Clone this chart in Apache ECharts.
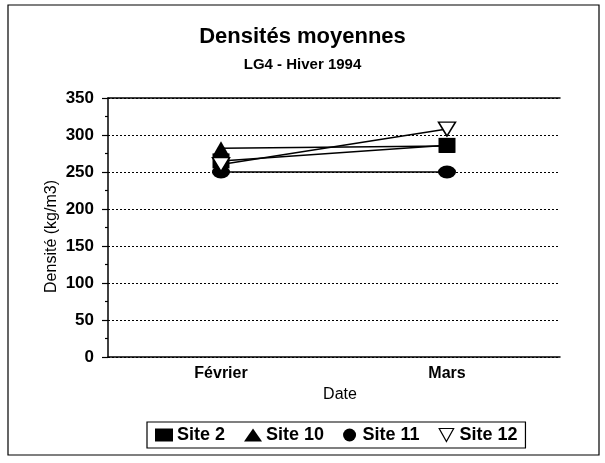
<!DOCTYPE html>
<html><head><meta charset="utf-8">
<script src="https://cdn.jsdelivr.net/npm/echarts@6/dist/echarts.min.js"></script>
<style>html,body{margin:0;padding:0;background:#fff}#c{width:605px;height:463px}</style>
</head><body><div id="c"></div>
<script>
const categories = ['Février', 'Mars'];
const site2 = [265, 286];
const site10 = [282, 285];
const site11 = [250, 250];
const site12 = [260, 308];
const yTicks = [0, 50, 100, 150, 200, 250, 300, 350];

const F = '"Liberation Sans", Arial, sans-serif';
const chart = echarts.init(document.getElementById('c'));
function ser(name, data, symbol, size, color, border, z, rot) {
  return {
    name, type: 'line', data, symbol, symbolSize: size, symbolRotate: rot || 0, z,
    lineStyle: { color: '#000', width: 1.5 },
    itemStyle: { color: color, borderColor: '#000', borderWidth: border },
    emphasis: { disabled: true }, animation: false
  };
}
chart.setOption({
  animation: false,
  textStyle: { fontFamily: F },
  graphic: [{ type: 'rect', shape: { x: 8, y: 5, width: 591, height: 450 }, style: { fill: 'none', stroke: '#000', lineWidth: 1.2 } }],
  title: [
    { text: 'Densités moyennes', left: 'center', top: 21, textStyle: { fontFamily: F, fontSize: 22, fontWeight: 'bold', color: '#000' } },
    { text: 'LG4 - Hiver 1994', left: 'center', top: 52, textStyle: { fontFamily: F, fontSize: 15, fontWeight: 'bold', color: '#000' } }
  ],
  legend: {
    bottom: 15, left: 147, itemGap: 19, itemWidth: 18, itemHeight: 13,
    padding: [4, 8], borderColor: '#000', borderWidth: 1.2,
    textStyle: { fontFamily: F, fontSize: 18, fontWeight: 'bold', color: '#000', padding: [0, 0, 0, -1] },
    data: [
      { name: 'Site 2', icon: 'rect', itemStyle: { color: '#000' } },
      { name: 'Site 10', icon: 'triangle', itemStyle: { color: '#000' } },
      { name: 'Site 11', icon: 'circle', itemStyle: { color: '#000' } },
      { name: 'Site 12', icon: 'path://M0,0 L10,0 L5,9 Z', itemStyle: { color: '#fff', borderColor: '#000', borderWidth: 1.2 } }
    ]
  },
  grid: { left: 108, right: 45, top: 98, bottom: 106 },
  xAxis: [{
    type: 'category', data: categories, boundaryGap: true,
    name: 'Date', nameLocation: 'middle', nameGap: 29,
    nameTextStyle: { fontFamily: F, fontSize: 16, color: '#000', padding: [0, 0, 0, 12] },
    axisLine: { lineStyle: { color: '#000', width: 1.5 } },
    axisTick: { alignWithLabel: true, length: 5, lineStyle: { color: '#000', width: 1.5 } },
    axisLabel: { fontFamily: F, fontSize: 16, fontWeight: 'bold', color: '#000', margin: 9 },
    splitLine: { show: false }
  }, {
    type: 'category', data: categories, position: 'top',
    axisLine: { show: true, lineStyle: { color: '#000', width: 1.5 } },
    axisTick: { show: false }, axisLabel: { show: false }, splitLine: { show: false }
  }],
  yAxis: {
    type: 'value', min: yTicks[0], max: yTicks[yTicks.length - 1], interval: 50,
    name: 'Densité (kg/m3)', nameLocation: 'middle', nameGap: 48, nameMoveOverlap: false,
    nameTextStyle: { fontFamily: F, fontSize: 16, color: '#000', padding: [0, 0, 0, -18] },
    axisLine: { show: true, lineStyle: { color: '#000', width: 1.5 } },
    axisTick: { show: true, length: 6, lineStyle: { color: '#000', width: 1.2 } },
    minorTick: { show: true, splitNumber: 2, length: 3, lineStyle: { color: '#000', width: 1.2 } },
    axisLabel: { fontFamily: F, fontSize: 17, fontWeight: 'bold', color: '#000', margin: 14 },
    splitLine: { show: true, lineStyle: { color: '#000', type: [2, 2], width: 1 } }
  },
  series: [
    ser('Site 10', site10, 'triangle', [16, 14], '#000', 0, 3),
    ser('Site 11', site11, 'circle', [18, 13], '#000', 0, 4),
    ser('Site 2', site2, 'rect', [17, 15], '#000', 0, 5),
    ser('Site 12', site12, 'triangle', [17, 14], '#fff', 1.5, 6, 180)
  ]
});
</script></body></html>
